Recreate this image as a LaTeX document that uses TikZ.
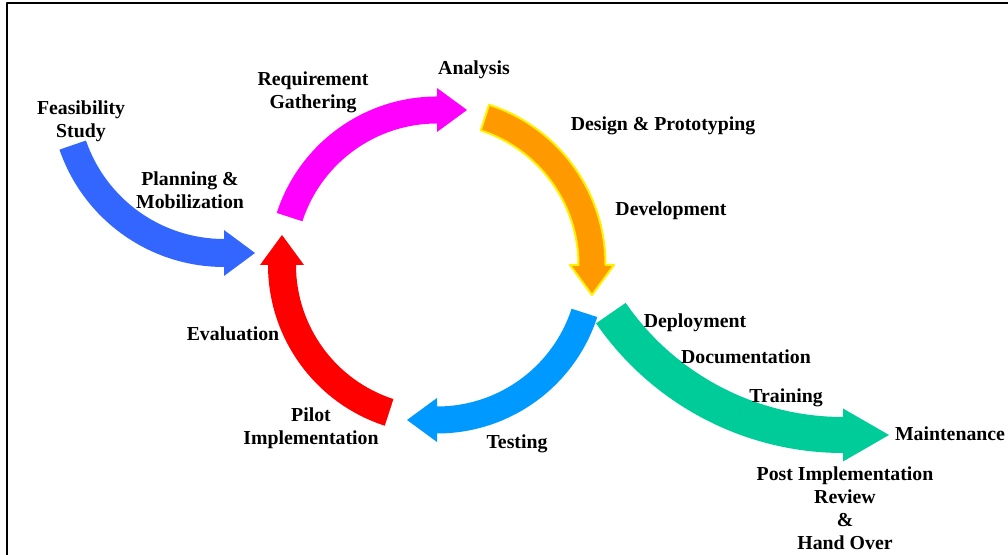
\documentclass[tikz,border=0pt]{standalone}
\usepackage{fontspec}
\setmainfont{Liberation Serif}
\usetikzlibrary{calc}

% thick curved arrow: centre, radius, from angle, to angle,
% half width, head half width, head length, path options
\newcommand{\fatarrow}[8]{%
  \pgfmathsetmacro\tipdir{#4+90*sign(#4-#3)}
  \path[#8] ($(#1)+(#3:#2+#5)$) arc[start angle=#3, end angle=#4, radius=#2+#5]
    -- ($(#1)+(#4:#2+#6)$) -- ($(#1)+(#4:#2)+(\tipdir:#7)$) -- ($(#1)+(#4:#2-#6)$)
    -- ($(#1)+(#4:#2-#5)$) arc[start angle=#4, end angle=#3, radius=#2-#5] -- cycle;}

\definecolor{feasblue}{HTML}{3366FF}
\definecolor{reqmag}{HTML}{FF00FF}
\definecolor{devorange}{HTML}{FF9900}
\definecolor{testblue}{HTML}{0099FF}
\definecolor{evalred}{HTML}{FF0000}
\definecolor{deploygreen}{HTML}{00CC99}

\begin{document}
\begin{tikzpicture}[x=0.75pt,y=0.75pt,line join=round,
  font=\bfseries\fontsize{14.85}{17.25}\selectfont,
  lbl/.style={align=center,inner sep=0pt}]
	\useasboundingbox (0,0) rectangle (1008,555);
	\draw[line width=1.2pt] (7,0) -- (7,552) -- (1008,552);
	\coordinate (O) at (437,290);
	\coordinate (F) at (224,462);
	\coordinate (M) at (843,402);
	% arrows
	\fatarrow{F}{160}{199}{270}{14}{23}{31}{fill=feasblue}
	\fatarrow{O}{155}{162}{90}{13.5}{22}{30}{fill=reqmag}
	\fatarrow{O}{155}{72}{0}{13.5}{22}{30}{fill=devorange,draw=yellow,line width=1.5pt}
	\fatarrow{O}{155}{-18}{-90}{13.5}{22}{30}{fill=testblue}
	\fatarrow{O}{155}{-108}{-180}{14}{22}{30}{fill=evalred}
	\fatarrow{M}{282}{214.6}{270}{18}{26.5}{46}{fill=deploygreen}
	% labels
	\node[lbl] (feas) at (81,434) {Feasibility\\Study};
	\node[lbl] (plan) at (190,365) {Planning \&\\Mobilization};
	\node[lbl] (req) at (313,463) {Requirement\\Gathering};
	\node[lbl] (anal) at (474,485) {Analysis};
	\node[lbl] (design) at (663,429) {Design \& Prototyping};
	\node[lbl] (dev) at (671,344) {Development};
	\node[lbl] (deploy) at (695,232) {Deployment};
	\node[lbl] (doc) at (746,198) {Documentation};
	\node[lbl] (train) at (786,157) {Training};
	\node[lbl] (maint) at (950,121) {Maintenance};
	\node[lbl] (post) at (845,47) {Post Implementation\\Review\\\&\\Hand Over};
	\node[lbl] (eval) at (233,221) {Evaluation};
	\node[lbl] (pilot) at (311,127) {Pilot\\Implementation};
	\node[lbl] (test) at (517,111) {Testing};
\end{tikzpicture}
\end{document}
